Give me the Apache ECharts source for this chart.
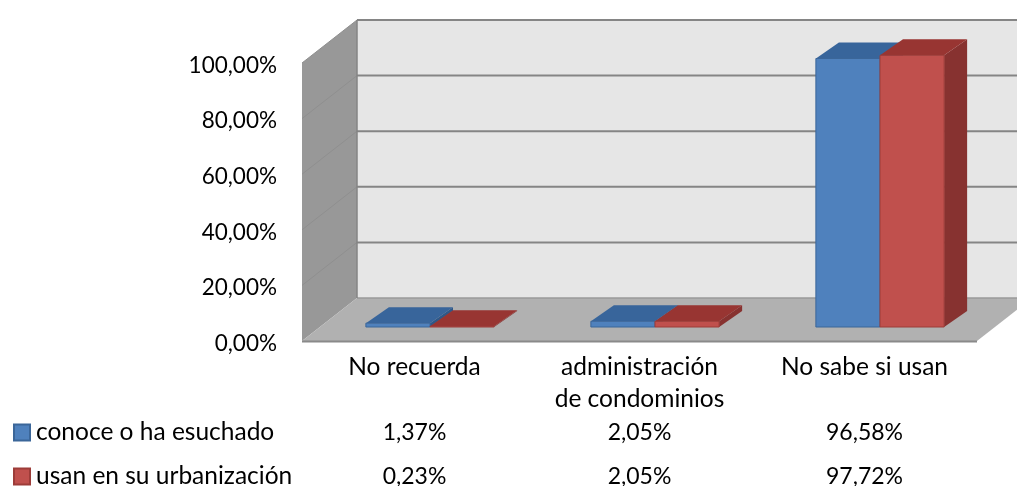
<!DOCTYPE html>
<html>
<head>
<meta charset="utf-8">
<style>html,body{margin:0;padding:0;background:#fff}#chart{width:1017px;height:486px}</style>
<script src="https://cdn.jsdelivr.net/npm/echarts@6/dist/echarts.min.js"></script>
</head>
<body>
<div id="chart"></div>
<script>
const categories = ['No recuerda', 'administración\nde condominios', 'No sabe si usan'];
const seriesNames = ['conoce o ha esuchado', 'usan en su urbanización'];
const conoce = [1.37, 2.05, 96.58];
const usan = [0.23, 2.05, 97.72];
const tickValues = [0, 20, 40, 60, 80, 100];

// Pseudo-3D projection: offset of the back wall and of the bars inside the box
const WALL_DX = 55, WALL_DY = -43;
const BAR_DX = 15.5, BAR_DY = -14;
const DEPTH_DX = 23, DEPTH_DY = -16;

const palette = [
  { front: '#4f81bd', top: '#38659b', side: '#2f5888', edge: '#3b6699' },
  { front: '#c0504d', top: '#983532', side: '#873230', edge: '#9d3c39' }
];

const poly = (pts, fill, stroke, width) => ({
  type: 'polygon',
  shape: { points: pts },
  style: { fill, stroke: stroke || null, lineWidth: width || 0 }
});
const seg = (a, b, stroke, width) => ({
  type: 'line',
  shape: { x1: a[0], y1: a[1], x2: b[0], y2: b[1] },
  style: { stroke, lineWidth: width }
});

// Walls, floor and gridlines of the box, all hung off the axis scales
function renderFrame(params, api) {
  const left = api.coord([0, 0])[0] - api.size([1, 0])[0] / 2;
  const right = api.coord([2, 0])[0] + api.size([1, 0])[0] / 2;
  const y0 = api.coord([0, 0])[1];
  const y100 = api.coord([0, 100])[1];
  const w = (x, y) => [x + WALL_DX, y + WALL_DY];
  const kids = [
    poly([w(left, y100), w(right, y100), w(right, y0), w(left, y0)], '#e6e6e6'),
    poly([[left, y100], w(left, y100), w(left, y0), [left, y0]], '#989898'),
    poly([[left, y0], w(left, y0), w(right, y0), [right, y0]], '#b1b1b1')
  ];
  tickValues.forEach(t => {
    const y = api.coord([0, t])[1];
    if (t > 0) {
      kids.push(seg([left, y], w(left, y), '#8f8f8f', 1));
      kids.push(seg(w(left, y), w(right, y), '#858585', 2));
    }
  });
  kids.push(seg(w(left, y0), w(right, y0), '#9a9a9a', 1.5));
  kids.push(seg(w(left, y100), w(left, y0), '#858585', 1.5));
  kids.push(seg([left, y0 + 0.5], [right, y0 + 0.5], '#8a8a8a', 2));
  return { type: 'group', children: kids };
}

// One cuboid per value, standing in the middle of the box depth
function renderBar(params, api) {
  const s = params.seriesIndex - 1;
  const cat = api.value(0);
  const val = api.value(1);
  const band = api.size([1, 0])[0];
  const barW = band * 0.285;
  const c = api.coord([cat, 0]);
  const t = api.coord([cat, val]);
  const x0 = c[0] + BAR_DX + (s === 0 ? -barW : 0);
  const x1 = x0 + barW;
  const yb = c[1] + BAR_DY;
  const yt = t[1] + BAR_DY;
  const d = (x, y) => [x + DEPTH_DX, y + DEPTH_DY];
  const col = palette[s];
  return {
    type: 'group',
    children: [
      poly([[x1, yt], d(x1, yt), d(x1, yb), [x1, yb]], col.side),
      poly([[x0, yt], d(x0, yt), d(x1, yt), [x1, yt]], col.top),
      poly([[x0, yt], [x1, yt], [x1, yb], [x0, yb]], col.front, col.edge, 1)
    ]
  };
}

// Data table under the axis: one text per category and row
const rows = [conoce, usan];
const ROW_OFFSET = [92, 136];
const fmt = v => v.toFixed(2).replace('.', ',') + '%';
function renderTable(params, api) {
  const cat = api.value(0);
  const row = api.value(1);
  const p = api.coord([cat, 0]);
  return {
    type: 'text',
    style: {
      x: p[0], y: p[1] + ROW_OFFSET[row],
      text: fmt(rows[row][cat]),
      fill: '#000', font: '23px Lato', align: 'center', verticalAlign: 'middle'
    }
  };
}

const tableData = [];
rows.forEach((r, ri) => r.forEach((_, ci) => tableData.push([ci, ri])));

const legendText = { color: '#000', fontFamily: 'Lato', fontSize: 24.5, padding: [0, 0, 0, 1] };
const legendRow = (name, top) => ({
  left: 13, top, itemWidth: 16, itemHeight: 16, padding: 0,
  icon: 'rect', selectedMode: false, textStyle: legendText, data: [name]
});

const chart = echarts.init(document.getElementById('chart'), null, { renderer: 'canvas' });
chart.setOption({
  animation: false,
  backgroundColor: '#fff',
  grid: { left: 302, right: 40, top: 63, bottom: 145 },
  legend: [legendRow(seriesNames[0], 420), legendRow(seriesNames[1], 464)],
  xAxis: {
    type: 'category', data: categories,
    axisLine: { show: false }, axisTick: { show: false },
    axisLabel: { color: '#000', fontFamily: 'Lato', fontSize: 24.5, lineHeight: 32, margin: 10 }
  },
  yAxis: {
    type: 'value', min: 0, max: 100, interval: 20,
    axisLine: { show: false }, axisTick: { show: false }, splitLine: { show: false },
    axisLabel: {
      margin: 25,
      formatter: v => '{t|' + fmt(v) + '}',
      rich: { t: { color: '#000', fontFamily: 'Lato', fontSize: 22.5, padding: [5, 0, 0, 0] } }
    }
  },
  series: [
    { type: 'custom', silent: true, renderItem: renderFrame, data: [[0, 0]], clip: false, z: 1, encode: { x: 0, y: 1 } },
    { type: 'custom', name: seriesNames[0], renderItem: renderBar, z: 2, clip: false,
      itemStyle: { color: palette[0].front, borderColor: palette[0].edge, borderWidth: 1 },
      data: conoce.map((v, i) => [i, v]), encode: { x: 0, y: 1 } },
    { type: 'custom', name: seriesNames[1], renderItem: renderBar, z: 3, clip: false,
      itemStyle: { color: palette[1].front, borderColor: palette[1].edge, borderWidth: 1 },
      data: usan.map((v, i) => [i, v]), encode: { x: 0, y: 1 } },
    { type: 'custom', silent: true, renderItem: renderTable, data: tableData, clip: false, z: 4, encode: { x: 0 } }
  ]
});
</script>
</body>
</html>
